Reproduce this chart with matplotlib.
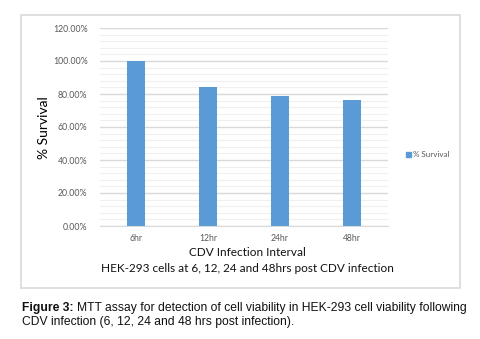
import matplotlib
matplotlib.use("Agg")
import matplotlib.pyplot as plt
from matplotlib.patches import Rectangle
from matplotlib.ticker import MultipleLocator, FuncFormatter

categories = ["6hr", "12hr", "24hr", "48hr"]
survival = [100.2, 84.4, 78.9, 76.6]
series_name = "% Survival"
y_ticks = [0, 20, 40, 60, 80, 100, 120]

W, H = 481, 339
fig = plt.figure(figsize=(W / 100, H / 100), dpi=100)
fig.patch.set_facecolor("white")

# chart border
fig.patches.append(Rectangle((21 / W, 1 - 288 / H), (460 - 21) / W, (288 - 15) / H,
                             transform=fig.transFigure, fill=False,
                             edgecolor="#d9d9d9", linewidth=1.2))

ax = fig.add_axes([100 / W, 1 - 226 / H, (388 - 100) / W, (226 - 28) / H])
x = list(range(len(categories)))
ax.bar(x, survival, width=0.25, color="#5b9bd5", zorder=3, label=series_name)
ax.set_xlim(-0.5, len(categories) - 0.5)
ax.set_ylim(0, 120)
ax.set_yticks(y_ticks)
ax.yaxis.set_minor_locator(MultipleLocator(4))
ax.yaxis.set_major_formatter(FuncFormatter(lambda v, p: f"{v:.2f}%"))
ax.grid(axis="y", which="major", color="#d9d9d9", linewidth=1.0, zorder=0)
ax.grid(axis="y", which="minor", color="#efefef", linewidth=0.8, zorder=0)
for s in ["top", "right", "left"]:
    ax.spines[s].set_visible(False)
ax.spines["bottom"].set_color("#d9d9d9")
ax.set_xticks(x)
ax.set_xticklabels(categories)
ax.tick_params(axis="both", which="both", length=0)
ax.tick_params(axis="y", pad=9, labelsize=6.3, labelcolor="#595959")
ax.tick_params(axis="x", pad=6, labelsize=6.2, labelcolor="#595959")
for lab in ax.get_yticklabels() + ax.get_xticklabels():
    lab.set_family("Lato")

fig.text(44 / W, 1 - 128 / H, "% Survival", rotation=90, ha="center", va="center",
         fontsize=10, family="Lato", color="#000000")
fig.text(247 / W, 1 - 253 / H, "CDV Infection Interval", ha="center", va="center",
         fontsize=8.5, family="Lato", color="#111111")
fig.text(247 / W, 1 - 269 / H, "HEK-293 cells at 6, 12, 24 and 48hrs post CDV infection",
         ha="center", va="center", fontsize=8.5, family="Lato", color="#111111")

# legend
fig.patches.append(Rectangle((406 / W, 1 - 156.5 / H), 4.5 / W, 4.5 / H,
                             transform=fig.transFigure, color="#5b9bd5"))
fig.text(413 / W, 1 - 154.5 / H, series_name, ha="left", va="center",
         fontsize=5.8, family="Lato", color="#595959")

# caption
cap_size = 8.75
t1 = fig.text(22 / W, 1 - 308 / H, "Figure 3: ", ha="left", va="center",
              fontsize=cap_size, family="Liberation Sans", weight="bold", color="#111111")
fig.canvas.draw()
bb = t1.get_window_extent()
fig.text(bb.x1 / W, 1 - 308 / H,
         "MTT assay for detection of cell viability in HEK-293 cell viability following",
         ha="left", va="center", fontsize=cap_size, family="Liberation Sans", color="#111111")
fig.text(22 / W, 1 - 322 / H, "CDV infection (6, 12, 24 and 48 hrs post infection).",
         ha="left", va="center", fontsize=cap_size, family="Liberation Sans", color="#111111")

fig.savefig("out.png", dpi=100)
